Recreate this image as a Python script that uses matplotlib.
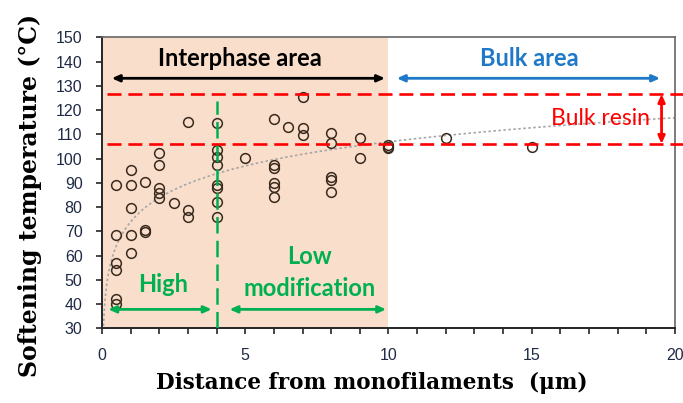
import numpy as np
import matplotlib
matplotlib.use("Agg")
import matplotlib.pyplot as plt

# --- Data ---
dist = [0.5, 0.5, 0.5, 0.5, 0.5, 0.5,
        1, 1, 1, 1, 1,
        1.5, 1.5, 1.5,
        2, 2, 2, 2, 2,
        2.5,
        3, 3, 3,
        4, 4, 4, 4, 4, 4, 4, 4,
        5,
        6, 6, 6, 6, 6, 6,
        6.5,
        7, 7, 7,
        8, 8, 8, 8, 8,
        9, 9,
        10, 10, 10,
        12, 15]
temp = [42, 40, 57, 54, 68.5, 89,
        95.3, 89, 79.5, 68.5, 61,
        90.5, 70.5, 69.8,
        102.4, 97.3, 87.7, 85.7, 83.6,
        81.8,
        115.2, 78.8, 75.8,
        114.5, 103.5, 100.8, 97.3, 89.1, 87.7, 82.2, 76,
        100.1,
        116.2, 97.3, 96, 89.8, 88.4, 84.3,
        113.1,
        125.5, 112.5, 109.7,
        110.7, 106.3, 92.5, 91.2, 86.3,
        108.4, 100.1,
        105.6, 104.9, 104.3,
        108.4, 104.9]

bulk_resin = [106, 126.6]      # red dashed band (°C)
interphase_limit = 10          # µm
high_limit = 4                 # µm
x_ticks = [0, 5, 10, 15, 20]
y_ticks = list(range(30, 151, 10))

GREEN = "#00B050"
BLUE = "#1F78C8"
RED = "#FF0000"
ANNOT_FONT = ["Lato", "DejaVu Sans"]

fig = plt.figure(figsize=(6.83, 4.03), dpi=100)
ax = fig.add_axes([0.1493, 0.1854, 0.8390, 0.7220])
ax.set_xlim(0, 20)
ax.set_ylim(30, 150)

# interphase shading
ax.axvspan(0, interphase_limit, color="#F9DECB", lw=0, zorder=0)

# log trendline (like Excel's logarithmic fit)
b, a = np.polyfit(np.log(dist), temp, 1)
xs = np.linspace(0.05, 20, 400)
ax.plot(xs, a + b * np.log(xs), ls=(0, (1.5, 1.5)), color="#A6A6A6", lw=1.2, zorder=2)

# data points
ax.plot(dist, temp, "o", mfc="none", mec="#3A2A1E", ms=7, mew=1.1, zorder=3)

# bulk resin band
for yv in bulk_resin:
    ax.plot([0.17, 20.28], [yv, yv], color=RED, lw=1.9, dashes=(5.3, 2.6),
            clip_on=False, zorder=4)

# high / low boundary
ax.plot([high_limit, high_limit], [30, 123.9], color=GREEN, lw=1.8,
        dashes=(6.6, 2.9), zorder=4)

def arrow(x0, x1, y0, y1, color):
    ax.annotate("", xy=(x1, y1), xytext=(x0, y0),
                arrowprops=dict(arrowstyle="<|-|>,head_length=0.45,head_width=0.2",
                                color=color, lw=2, shrinkA=0, shrinkB=0),
                zorder=5, annotation_clip=False)

arrow(0.34, 9.88, 133.1, 133.1, "black")
arrow(10.29, 19.48, 133.1, 133.1, BLUE)
arrow(0.22, 3.83, 37.8, 37.8, GREEN)
arrow(4.45, 9.92, 37.8, 37.8, GREEN)
arrow(19.53, 19.53, bulk_resin[0], bulk_resin[1], RED)

ax.text(4.8, 141.3, "Interphase area", ha="center", va="center",
        fontsize=17, fontweight="bold", color="black", family=ANNOT_FONT)
ax.text(14.9, 141.3, "Bulk area", ha="center", va="center",
        fontsize=17, fontweight="bold", color=BLUE, family=ANNOT_FONT)
ax.text(17.4, 116.6, "Bulk resin", ha="center", va="center",
        fontsize=16.5, color=RED, family=ANNOT_FONT)
ax.text(2.14, 47.9, "High", ha="center", va="center",
        fontsize=17, fontweight="bold", color=GREEN, family=ANNOT_FONT)
ax.text(7.26, 59.5, "Low", ha="center", va="center",
        fontsize=17, fontweight="bold", color=GREEN, family=ANNOT_FONT)
ax.text(7.26, 46.5, "modification", ha="center", va="center",
        fontsize=17, fontweight="bold", color=GREEN, family=ANNOT_FONT)

# axes styling
ax.set_xticks(x_ticks)
ax.set_xticks(np.arange(0, 21, 1), minor=True)
ax.set_yticks(y_ticks)
ax.tick_params(axis="both", which="both", direction="out", length=4,
               width=1.2, color="#262626", labelsize=11.5,
               labelcolor="#1F2A44", pad=10)
for side in ["left", "bottom"]:
    ax.spines[side].set_color("#262626")
    ax.spines[side].set_linewidth(1.4)
for side in ["top", "right"]:
    ax.spines[side].set_color("#666666")
    ax.spines[side].set_linewidth(1.2)
for lbl in ax.get_xticklabels() + ax.get_yticklabels():
    lbl.set_family("Liberation Sans")

fig.text(0.545, 0.049, "Distance from monofilaments  (μm)", ha="center", va="center",
         fontsize=15.5, fontweight="bold", family="DejaVu Serif")
fig.text(0.044, 0.515, "Softening temperature (°C)", ha="center", va="center",
         rotation=90, fontsize=17, fontweight="bold", family="DejaVu Serif")

fig.savefig("out.png", dpi=100)
